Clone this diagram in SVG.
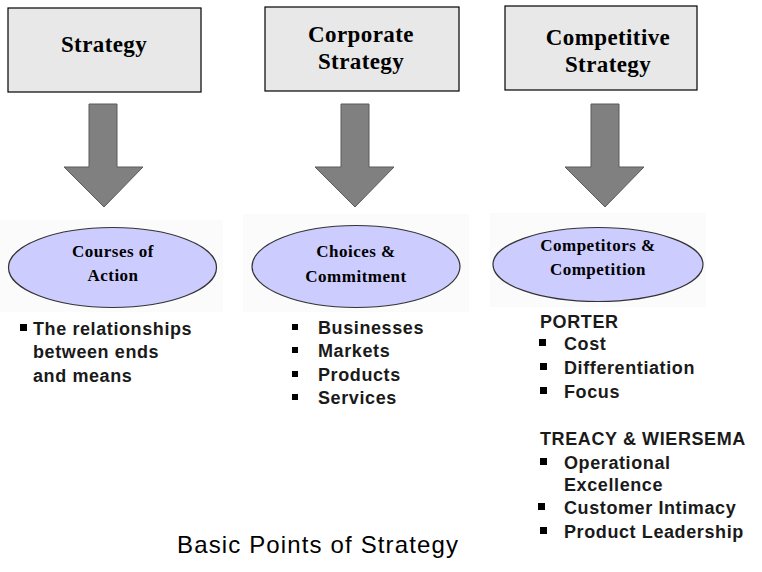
<svg xmlns="http://www.w3.org/2000/svg" width="762" height="572" viewBox="0 0 762 572">
<style>
.box{fill:#e8e8e8;stroke:#000;stroke-width:1.2}
.bt{font-family:"Liberation Serif","Times New Roman",serif;font-weight:bold;font-size:23px;fill:#000;text-anchor:middle;letter-spacing:0.4px}
.arr{fill:#808080;stroke:#5a5a5a;stroke-width:1}
.bg{fill:#fbfbfb}
.ell{fill:#ccccff;stroke:#333;stroke-width:1.2}
.et{font-family:"Liberation Serif","Times New Roman",serif;font-weight:bold;font-size:17px;fill:#000;text-anchor:middle;letter-spacing:0.5px}
.li{font-family:"Liberation Sans",Arial,sans-serif;font-weight:bold;font-size:18px;fill:#1a1a1a;letter-spacing:0.6px}
.sq{fill:#000}
.title{font-family:"Liberation Sans",Arial,sans-serif;font-size:24px;fill:#000}
</style>
<rect width="762" height="572" fill="#fff"/>
<g id="strategy">
<rect class="box" x="8" y="8" width="193" height="84"/>
<text class="bt" x="104" y="52">Strategy</text>
</g>
<g id="corporate-strategy">
<rect class="box" x="265" y="7" width="194" height="84"/>
<text class="bt" x="361" y="42">Corporate</text>
<text class="bt" x="361" y="69">Strategy</text>
</g>
<g id="competitive-strategy">
<rect class="box" x="505" y="6" width="192" height="84"/>
<text class="bt" x="608" y="45">Competitive</text>
<text class="bt" x="608" y="72">Strategy</text>
</g>
<g id="connectors">
<path class="arr" d="M89,104 H117 V167 H143 L104,207 L64,167 H89 Z"/>
<path class="arr" d="M341,104 H369 V167 H394 L355,207 L315,167 H341 Z"/>
<path class="arr" d="M591,104 H619 V167 H644 L605,207 L565,167 H591 Z"/>
</g>
<g id="courses-of-action">
<rect class="bg" x="0" y="220" width="223" height="92"/>
<ellipse class="ell" cx="112.5" cy="267.5" rx="104" ry="40"/>
<text class="et" x="113" y="257">Courses of</text>
<text class="et" x="113" y="281">Action</text>
</g>
<g id="choices-commitment">
<rect class="bg" x="243" y="214" width="226" height="98"/>
<ellipse class="ell" cx="356" cy="266.5" rx="104" ry="41"/>
<text class="et" x="356" y="257">Choices &amp;</text>
<text class="et" x="356" y="282">Commitment</text>
</g>
<g id="competitors-competition">
<rect class="bg" x="490" y="213" width="216" height="94"/>
<ellipse class="ell" cx="598" cy="264.5" rx="105" ry="37"/>
<text class="et" x="598" y="251">Competitors &amp;</text>
<text class="et" x="598" y="275">Competition</text>
</g>
<g id="list-1">
<rect class="sq" x="20" y="324" width="7" height="7"/>
<text class="li" x="33" y="335">The relationships</text>
<text class="li" x="33" y="358">between ends</text>
<text class="li" x="33" y="382">and means</text>
</g>
<g id="list-2">
<rect class="sq" x="292" y="324" width="6" height="6"/>
<text class="li" x="318" y="334">Businesses</text>
<rect class="sq" x="292" y="347" width="6" height="6"/>
<text class="li" x="318" y="357">Markets</text>
<rect class="sq" x="292" y="371" width="6" height="6"/>
<text class="li" x="318" y="381">Products</text>
<rect class="sq" x="292" y="394" width="6" height="6"/>
<text class="li" x="318" y="404">Services</text>
</g>
<g id="list-3">
<text class="li" x="540" y="328">PORTER</text>
<rect class="sq" x="539" y="339" width="7" height="7"/>
<text class="li" x="564" y="350">Cost</text>
<rect class="sq" x="540" y="363" width="7" height="7"/>
<text class="li" x="564" y="374">Differentiation</text>
<rect class="sq" x="540" y="387" width="7" height="7"/>
<text class="li" x="564" y="398">Focus</text>
<text class="li" x="540" y="445">TREACY &amp; WIERSEMA</text>
<rect class="sq" x="540" y="458" width="7" height="7"/>
<text class="li" x="564" y="469">Operational</text>
<text class="li" x="564" y="491">Excellence</text>
<rect class="sq" x="538" y="503" width="7" height="7"/>
<text class="li" x="564" y="514">Customer Intimacy</text>
<rect class="sq" x="540" y="527" width="7" height="7"/>
<text class="li" x="564" y="538">Product Leadership</text>
</g>
<g id="caption">
<text class="title" x="177" y="553" textLength="281" lengthAdjust="spacing">Basic Points of Strategy</text>
</g>
</svg>
